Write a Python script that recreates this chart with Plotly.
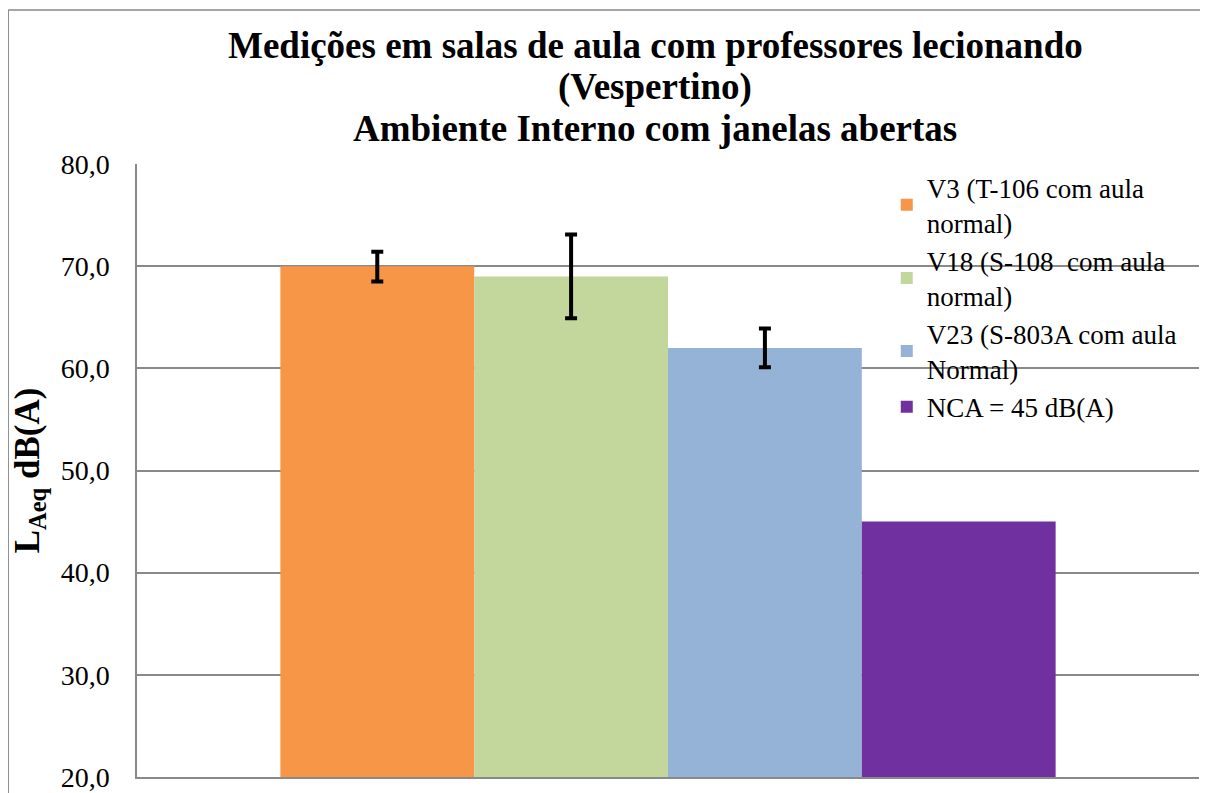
import plotly.graph_objects as go

# Dados
categorias = [""]
series = [
    "V3 (T-106 com aula<br>normal)",
    "V18 (S-108\u00a0 com aula<br>normal)",
    "V23 (S-803A com aula<br>Normal)",
    "NCA = 45 dB(A)",
]
valores = [70.0, 69.0, 62.0, 45.0]
erro_mais = [1.4, 4.1, 1.9, None]
erro_menos = [1.5, 4.1, 1.9, None]
cores = ["#F79646", "#C3D69B", "#95B3D7", "#7030A0"]

titulo = [
    "Medições em salas de aula com professores lecionando",
    "(Vespertino)",
    "Ambiente Interno com janelas abertas",
]
y_ticks = [20, 30, 40, 50, 60, 70, 80]

fonte = "Times New Roman"
cinza = "#898989"

fig = go.Figure()

for nome, v, ep, em, cor in zip(series, valores, erro_mais, erro_menos, cores):
    barra = dict(x=categorias, y=[v], name=nome, marker=dict(color=cor, line=dict(width=0)))
    if ep is not None:
        barra["error_y"] = dict(type="data", symmetric=False, array=[ep], arrayminus=[em],
                                color="black", thickness=4, width=6)
    fig.add_trace(go.Bar(**barra))

# Título em três linhas
pos_titulo = [1.194, 1.1256, 1.0587]
for linha, yy in zip(titulo, pos_titulo):
    fig.add_annotation(text="<b>" + linha + "</b>", xref="paper", yref="paper",
                       x=0.4878, y=yy, xanchor="center", yanchor="middle",
                       showarrow=False, font=dict(family=fonte, size=37, color="black"))

# Moldura externa (só borda esquerda e superior ficam visíveis)
fig.add_shape(type="line", xref="paper", yref="paper", x0=-0.1213, x1=1.2, y0=1.2512, y1=1.2512,
              line=dict(color=cinza, width=1.5), layer="below")
fig.add_shape(type="line", xref="paper", yref="paper", x0=-0.1213, x1=-0.1213, y0=-0.2, y1=1.2512,
              line=dict(color=cinza, width=1.5), layer="below")

fig.update_layout(
    width=1200, height=785,
    margin=dict(l=129, r=9, t=156, b=16),
    paper_bgcolor="white", plot_bgcolor="white",
    barmode="group", bargap=0.27, bargroupgap=0,
    separators=",.",
    font=dict(family=fonte, color="black"),
    showlegend=True,
    legend=dict(x=0.706, y=1.0015, xanchor="left", yanchor="top",
                font=dict(family=fonte, size=27, color="black"),
                bgcolor="rgba(0,0,0,0)", tracegroupgap=0),
)

fig.update_xaxes(showticklabels=False, showline=True, linecolor=cinza, linewidth=1.5,
                 showgrid=False, automargin=False)
fig.update_yaxes(range=[20, 80], tickvals=y_ticks, tickformat=".1f",
                 showgrid=True, gridcolor=cinza, gridwidth=1.5,
                 showline=True, linecolor=cinza, linewidth=1.5,
                 zeroline=False, ticks="", ticklabelstandoff=20, automargin=False,
                 tickfont=dict(family=fonte, size=28, color="black"),
                 title=dict(text="<b>L<sub>Aeq</sub> dB(A)</b>", standoff=12,
                            font=dict(family=fonte, size=35, color="black")))

fig.write_html("out.html")
